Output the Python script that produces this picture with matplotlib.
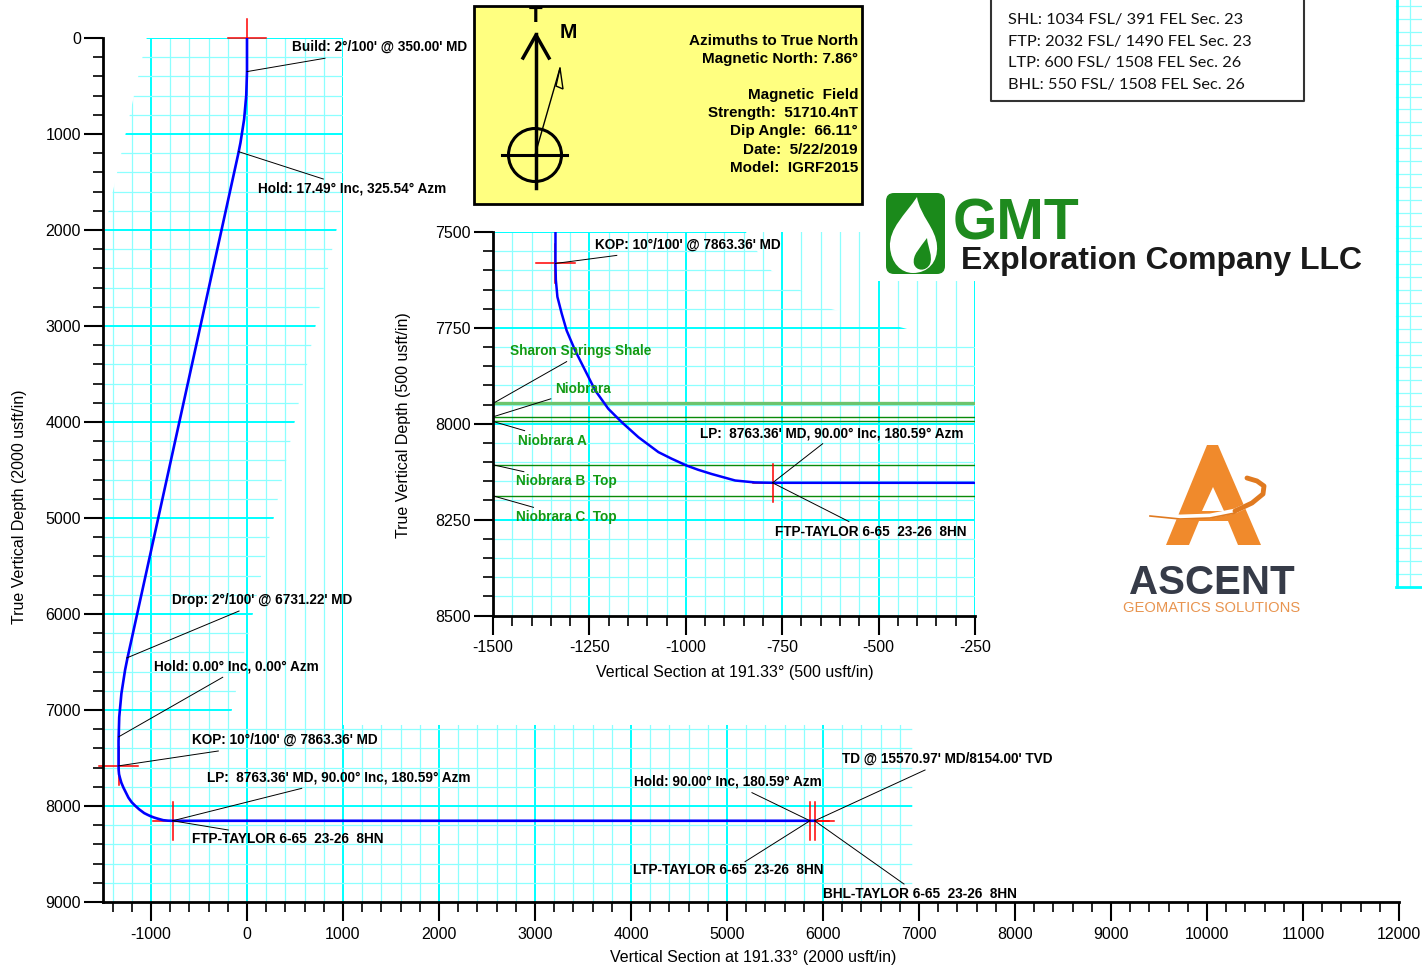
import numpy as np
import matplotlib
matplotlib.use('Agg')
import matplotlib.pyplot as plt
from matplotlib.path import Path
from matplotlib.patches import PathPatch, Rectangle, Circle, FancyBboxPatch, Polygon
from matplotlib.ticker import MultipleLocator

plt.rcParams.update({
    'font.family': 'Liberation Sans',
    'axes.unicode_minus': False,
    'xtick.direction': 'out',
    'ytick.direction': 'out',
})

# well path: vertical section (usft) vs true vertical depth (usft)
vs_path = [0, 0, -8, -30, -68, -92, -1246, -1270, -1308, -1331, -1338, -1338,
           -1337, -1333, -1322, -1309, -1287, -1261, -1235, -1201, -1166, -1123,
           -1071, -1037, -998, -968, -933, -872, -821, -775, 5864, 5913]
tvd_path = [0, 350, 600, 847, 1091, 1211, 6463, 6583, 6827, 7074, 7324, 7582,
            7625, 7669, 7712, 7757, 7809, 7861, 7913, 7961, 7996, 8035,
            8074, 8091, 8109, 8120, 8131, 8148, 8153, 8154, 8154, 8154]

# survey points marked with red crosses (SHL, KOP, FTP/LP, LTP, BHL)
mark_vs = [0, -1338, -775, 5864, 5913]
mark_tvd = [0, 7582, 8154, 8154, 8154]

# formation tops shown in the lateral detail
form_names = ['Sharon Springs Shale', 'Niobrara', 'Niobrara A', 'Niobrara B  Top', 'Niobrara C  Top']
form_tvd = [7947, 7982, 7994, 8107, 8188]

# annotations: text, point on well, leader end, text position
main_notes = [
    ("Build: 2°/100' @ 350.00' MD", (0, 350), (812, 211), (469, 94)),
    ("Hold: 17.49° Inc, 325.54° Azm", (-87, 1184), (795, 1469), (115, 1563)),
    ("Drop: 2°/100' @ 6731.22' MD", (-1253, 6458), (-83, 5969), (-781, 5854)),
    ("Hold: 0.00° Inc, 0.00° Azm", (-1338, 7280), (-253, 6659), (-969, 6552)),
    ("KOP: 10°/100' @ 7863.36' MD", (-1338, 7582), (-299, 7427), (-573, 7313)),
    ("LP:  8763.36' MD, 90.00° Inc, 180.59° Azm", (-775, 8154), (570, 7816), (-417, 7698)),
    ("FTP-TAYLOR 6-65  23-26  8HN", (-775, 8154), (-195, 8250), (-573, 8344)),
    ("Hold: 90.00° Inc, 180.59° Azm", (5864, 8154), (5260, 7861), (4031, 7740)),
    ("TD @ 15570.97' MD/8154.00' TVD", (5913, 8154), (7063, 7625), (6198, 7510)),
    ("LTP-TAYLOR 6-65  23-26  8HN", (5864, 8154), (5188, 8580), (4021, 8667)),
    ("BHL-TAYLOR 6-65  23-26  8HN", (5913, 8154), (6844, 8813), (6000, 8917)),
]
inset_notes = [
    ("KOP: 10°/100' @ 7863.36' MD", (-1338, 7582), (-1179, 7561), (-1235, 7533)),
    ("LP:  8763.36' MD, 90.00° Inc, 180.59° Azm", (-775, 8154), (-645, 8052), (-963, 8026)),
    ("FTP-TAYLOR 6-65  23-26  8HN", (-775, 8154), (-577, 8255), (-769, 8283)),
]
form_leader = [(-1309, 7838), (-1350, 7935), (-1418, 8018), (-1420, 8125), (-1395, 8218)]
form_text = [(-1456, 7811), (-1340, 7909), (-1435, 8045), (-1440, 8150), (-1440, 8244)]

mag_lines = ['Azimuths to True North', 'Magnetic North: 7.86°', '',
             'Magnetic  Field', 'Strength:  51710.4nT', 'Dip Angle:  66.11°',
             'Date:  5/22/2019', 'Model:  IGRF2015']
loc_lines = ['SHL: 1034 FSL/ 391 FEL Sec. 23', 'FTP: 2032 FSL/ 1490 FEL Sec. 23',
             'LTP: 600 FSL/ 1508 FEL Sec. 26', 'BHL: 550 FSL/ 1508 FEL Sec. 26']

W, H = 1422, 966
fig = plt.figure(figsize=(W / 100, H / 100), dpi=100)

CYAN = '#00ffff'
CYAN_L = '#8cffff'
NOTE_FS = 9.8


def style_axes(a):
    for s in ['top', 'right']:
        a.spines[s].set_visible(False)
    for s in ['left', 'bottom']:
        a.spines[s].set_linewidth(2)
    a.tick_params(which='major', length=14, width=1.5, labelsize=11.5)
    a.tick_params(axis='y', which='major', pad=2)
    a.tick_params(axis='x', which='major', pad=4)
    a.tick_params(which='minor', length=7, width=1.2)


def grid_lines(a, xs, ys, x0, x1, y0, y1, major_x, major_y, vclip, hclip):
    for xv in xs:
        big = xv % major_x == 0
        ln, = a.plot([xv, xv], [y0, y1], color=CYAN if big else CYAN_L,
                     lw=1.4 if big else 0.9, zorder=0.5)
        if vclip is not None:
            ln.set_clip_path(Path(vclip), a.transData)
    for yv in ys:
        big = yv % major_y == 0
        ln, = a.plot([x0, x1], [yv, yv], color=CYAN if big else CYAN_L,
                     lw=1.4 if big else 0.9, zorder=0.5)
        if hclip is not None:
            ln.set_clip_path(Path(hclip), a.transData)


def draw_cross(a, xs, ys, arm):
    for xv, yv in zip(xs, ys):
        a.plot([xv - arm, xv + arm], [yv, yv], color='red', lw=1.1, zorder=2, clip_on=False)
        a.plot([xv, xv], [yv - arm, yv + arm], color='red', lw=1.1, zorder=2, clip_on=False)


def draw_notes(a, notes, color='black'):
    for txt, p0, p1, pt in notes:
        a.plot([p0[0], p1[0]], [p0[1], p1[1]], color='black', lw=0.7, zorder=4)
        a.text(pt[0], pt[1], txt, fontsize=NOTE_FS, fontweight='bold', color=color,
               ha='left', va='center', zorder=5)


# ---------------- main section view ----------------
ax = fig.add_axes([103 / W, 64 / H, 1296 / W, 864 / H])
ax.set_xlim(-1500, 12000)
ax.set_ylim(9000, 0)
style_axes(ax)
ax.xaxis.set_major_locator(MultipleLocator(1000))
ax.xaxis.set_minor_locator(MultipleLocator(200))
ax.yaxis.set_major_locator(MultipleLocator(1000))
ax.yaxis.set_minor_locator(MultipleLocator(200))

# grid only covers the band around the well and the lateral strip
vclip = [(-1045, 0), (1000, 0), (1000, 7156), (6930, 7156), (6930, 9000),
         (-1500, 9000), (-1500, 2068), (-1045, 0)]
hclip = [(-1045, 0), (1000, 0), (1000, 1688), (-192, 7156), (6930, 7156),
         (6930, 9000), (-1500, 9000), (-1500, 2068), (-1045, 0)]
grid_lines(ax, np.arange(-1400, 7000, 200), np.arange(0, 9000, 200),
           -1500, 6930, 0, 9000, 1000, 1000, vclip, hclip)

draw_cross(ax, mark_vs, mark_tvd, 200)
ax.plot(vs_path, tvd_path, color='#0000ff', lw=1.9, zorder=3)
draw_notes(ax, main_notes)

ax.set_xlabel('Vertical Section at 191.33° (2000 usft/in)', fontsize=11.5)
ax.set_ylabel('True Vertical Depth (2000 usft/in)', fontsize=11.5)
ax.xaxis.set_label_coords(0.502, -0.055)
ax.yaxis.set_label_coords(-0.0586, 0.457)

# ---------------- lateral detail ----------------
ins = fig.add_axes([493 / W, (H - 615.5) / H, 482 / W, 383.5 / H])
ins.set_facecolor('none')
ins.set_xlim(-1500, -250)
ins.set_ylim(8500, 7500)
style_axes(ins)
ins.xaxis.set_major_locator(MultipleLocator(250))
ins.xaxis.set_minor_locator(MultipleLocator(50))
ins.yaxis.set_major_locator(MultipleLocator(250))
ins.yaxis.set_minor_locator(MultipleLocator(50))
ins_hclip = [(-1500, 7500), (-844, 7500), (-815, 7550), (-779, 7600), (-705, 7650),
             (-626, 7700), (-437, 7750), (-250, 7800), (-250, 8500), (-1500, 8500),
             (-1500, 7500)]
grid_lines(ins, np.arange(-1450, -200, 50), np.arange(7500, 8500, 50),
           -1500, -250, 7500, 8500, 250, 250, None, ins_hclip)

for name, tv in zip(form_names, form_tvd):
    if name.startswith('Sharon'):
        ins.axhline(tv, color='#6cc46c', lw=2.4, zorder=1)
    else:
        ins.axhline(tv, color='#0a8a0a', lw=1.0, zorder=1)
for name, tv, p1, pt in zip(form_names, form_tvd, form_leader, form_text):
    ins.plot([-1500, p1[0]], [tv, p1[1]], color='black', lw=0.7, zorder=4)
    ins.text(pt[0], pt[1], name, fontsize=NOTE_FS, fontweight='bold',
             color='#139a13', ha='left', va='center', zorder=5)

draw_cross(ins, mark_vs[1:3], mark_tvd[1:3], 50)
ins.plot(vs_path, tvd_path, color='#0000ff', lw=1.8, zorder=3)
draw_notes(ins, inset_notes)

ins.set_xlabel('Vertical Section at 191.33° (500 usft/in)', fontsize=11.5)
ins.set_ylabel('True Vertical Depth (500 usft/in)', fontsize=11.5)
ins.xaxis.set_label_coords(0.501, -0.129)
ins.yaxis.set_label_coords(-0.170, 0.497)

# ---------------- north arrow / magnetic data box ----------------
bx = fig.add_axes([0, 0, 1, 1], zorder=6)
bx.set_xlim(0, W)
bx.set_ylim(H, 0)
bx.axis('off')
bx.patch.set_alpha(0)

bx.add_patch(Rectangle((474, 6), 388, 198, facecolor='#ffff80', edgecolor='black', lw=2))
bx.plot([536, 536], [188, 34], color='black', lw=2.5)
bx.plot([523, 536, 549], [58, 35, 58], color='black', lw=2.5)
bx.text(536, 17, 'T', fontsize=16, fontweight='bold', ha='center', va='center')
bx.text(568, 32, 'M', fontsize=15, fontweight='bold', ha='center', va='center')
bx.add_patch(Circle((535, 155), 26.5, fill=False, edgecolor='black', lw=2.2))
bx.plot([502, 567], [155, 155], color='black', lw=2.2)
bx.plot([535, 560], [155, 68], color='black', lw=1)
bx.add_patch(Polygon([(556, 86), (560, 68), (563, 89)], closed=True, fill=False,
                     edgecolor='black', lw=1))
for i, line in enumerate(mag_lines):
    if line:
        bx.text(858, 41 + i * 18.1, line, fontsize=11, fontweight='bold',
                ha='right', va='center')

# location box
bx.plot([991, 991, 1304, 1304], [-2, 101, 101, -2], color='#333333', lw=1.5)
for i, line in enumerate(loc_lines):
    bx.text(1008, 20 + i * 21.7, line, fontsize=11.8, family='Lato', ha='left', va='center',
            color='#111111')

# partial neighbouring grid at the right edge
for yv in np.arange(586.7, 0, -12.9):
    bx.plot([1396, W], [yv, yv], color=CYAN_L, lw=0.9)
bx.plot([1396.5, 1396.5], [0, 587], color=CYAN, lw=2)
bx.plot([1409.5, 1409.5], [0, 587], color=CYAN_L, lw=0.9)
bx.plot([1396, W], [586.7, 586.7], color=CYAN, lw=2)

# GMT logo
bx.add_patch(Rectangle((878, 185), 505, 96, facecolor='white', edgecolor='none'))
bx.add_patch(FancyBboxPatch((886, 193), 59, 81, boxstyle='round,pad=0,rounding_size=8',
                            facecolor='#1b8a1b', edgecolor='none'))
flame = Path([(917, 197), (905, 215), (889, 228), (890, 247),
              (891, 263), (901, 273), (913, 273),
              (928, 273), (938, 262), (937, 246),
              (936, 228), (920, 216), (917, 197)],
             [Path.MOVETO] + [Path.CURVE4] * 12)
bx.add_patch(PathPatch(flame, facecolor='white', edgecolor='none'))
inner = Path([(927, 238), (920, 248), (912, 255), (914, 264),
              (916, 271), (926, 272), (930, 264),
              (933, 256), (928, 248), (927, 238)],
             [Path.MOVETO] + [Path.CURVE4] * 9)
bx.add_patch(PathPatch(inner, facecolor='#1b8a1b', edgecolor='none'))
bx.text(953, 239, 'GMT', fontsize=41, fontweight='bold', color='#1e8a1e',
        ha='left', va='baseline')
bx.text(961, 269, 'Exploration Company LLC', fontsize=23, fontweight='bold',
        color='#1a1a1a', ha='left', va='baseline')

# ASCENT logo
ORANGE = '#f08a2c'
bx.add_patch(Polygon([(1207, 445), (1218, 445), (1261, 545), (1238, 545), (1228, 521),
                      (1199, 521), (1189, 545), (1166, 545)], closed=True,
                     facecolor=ORANGE, edgecolor='none'))
bx.add_patch(Polygon([(1213, 487), (1224, 511), (1202, 511)], closed=True,
                     facecolor='white', edgecolor='none'))
sw_x = [1150, 1180, 1210, 1235, 1252, 1263, 1264, 1257, 1247]
sw_y = [514, 517, 516, 511, 503, 494, 486, 481, 478]
bx.plot(sw_x, sw_y, color='white', lw=3.5, solid_capstyle='round')
bx.plot(sw_x[:4], [v + 2 for v in sw_y[:4]], color='#e07a20', lw=1.2)
bx.plot(sw_x[3:], sw_y[3:], color='#e07a20', lw=3.5, solid_capstyle='round')
bx.text(1212, 594, 'ASCENT', fontsize=29, fontweight='bold', color='#363b48',
        ha='center', va='baseline')
bx.text(1212, 612, 'GEOMATICS SOLUTIONS', fontsize=10.6, color='#e8944f',
        ha='center', va='baseline')

fig.savefig('out.png', dpi=100)
